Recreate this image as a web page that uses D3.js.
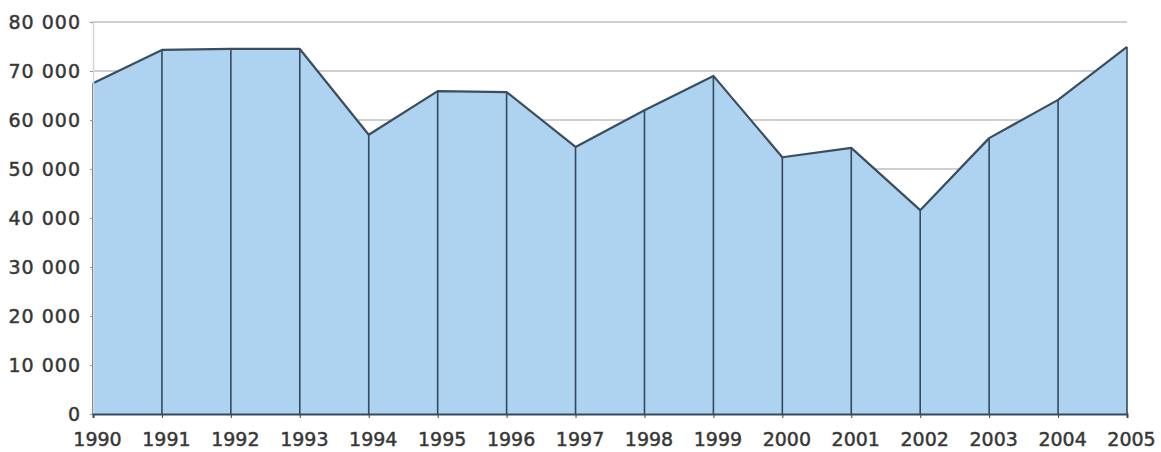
<!DOCTYPE html>
<html>
<head>
<meta charset="utf-8">
<script src="https://cdn.jsdelivr.net/npm/d3@7"></script>
<style>
  body { margin: 0; background: #fff; }
  svg text { font-family: "DejaVu Sans", Verdana, sans-serif; fill: #333; }
</style>
</head>
<body>
<svg width="1161" height="452"></svg>
<script>
const years = ['1990', '1991', '1992', '1993', '1994', '1995', '1996', '1997',
  '1998', '1999', '2000', '2001', '2002', '2003', '2004', '2005'];
const values = [67500, 74300, 74500, 74500, 57000, 65900, 65700, 54500,
  62000, 69000, 52400, 54300, 41600, 56300, 64100, 74900];
const yTicks = [0, 10000, 20000, 30000, 40000, 50000, 60000, 70000, 80000];

const data = years.map((y, i) => ({year: y, value: values[i]}));

const svg = d3.select('svg');
const margin = {top: 22, right: 34, bottom: 38, left: 93};
const width = +svg.attr('width') - margin.left - margin.right;
const height = +svg.attr('height') - margin.top - margin.bottom;
const g = svg.append('g')
  .attr('transform', `translate(${margin.left},${margin.top})`);

const x = d3.scalePoint()
  .domain(years)
  .range([0, width]);

const y = d3.scaleLinear()
  .domain([0, 80000])
  .range([height, 0]);

const fmt = v => v === 0 ? '0' : d3.format(',')(v).replace(',', ' ');

// grid
g.append('g')
  .selectAll('line')
  .data(yTicks.filter(d => d > 0))
  .enter().append('line')
    .attr('x1', 0)
    .attr('x2', width)
    .attr('y1', d => y(d))
    .attr('y2', d => y(d))
    .attr('stroke', '#cfcfcf')
    .attr('stroke-width', 2);

const area = d3.area()
  .x(d => x(d.year))
  .y0(height)
  .y1(d => y(d.value));

g.append('path')
  .datum(data)
  .attr('fill', '#add3f1')
  .attr('d', area);

// vertical drop lines
g.append('g')
  .selectAll('line')
  .data(data)
  .enter().append('line')
    .attr('x1', d => x(d.year))
    .attr('x2', d => x(d.year))
    .attr('y1', height)
    .attr('y2', d => y(d.value))
    .attr('stroke', '#34495c')
    .attr('stroke-width', 1.6);

const line = d3.line()
  .x(d => x(d.year))
  .y(d => y(d.value));

g.append('path')
  .datum(data)
  .attr('fill', 'none')
  .attr('stroke', '#3b4d5e')
  .attr('stroke-width', 2.2)
  .attr('stroke-linejoin', 'round')
  .attr('d', line);

// y axis
const yAxis = g.append('g')
  .call(d3.axisLeft(y)
    .tickValues(yTicks)
    .tickSize(3)
    .tickPadding(9)
    .tickFormat(fmt));
yAxis.select('.domain').attr('stroke', '#d8d8d8').attr('stroke-width', 1.5);
yAxis.selectAll('.tick line').attr('stroke', '#999');
yAxis.selectAll('.tick text')
  .attr('font-size', 19)
  .attr('letter-spacing', 1)
  .attr('dy', '0.36em')
  .attr('stroke', '#444')
  .attr('stroke-width', 0.5)
  .style('fill', '#333');

// x axis
const xAxis = g.append('g')
  .attr('transform', `translate(0,${height})`)
  .call(d3.axisBottom(x)
    .tickSize(4)
    .tickPadding(15));
xAxis.select('.domain').attr('stroke', '#34495c').attr('stroke-width', 2);
xAxis.selectAll('.tick line').attr('stroke', '#34495c');
xAxis.selectAll('.tick text')
  .attr('font-size', 19)
  .attr('dx', 4)
  .attr('stroke', '#444')
  .attr('stroke-width', 0.5)
  .style('fill', '#333');
</script>
</body>
</html>
